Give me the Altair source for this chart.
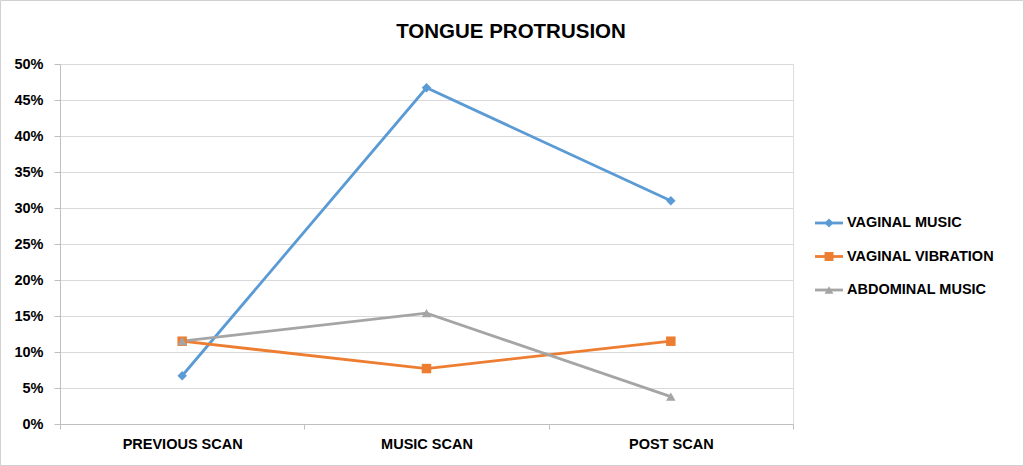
import altair as alt
import pandas as pd

title_text = "TONGUE PROTRUSION"
categories = ["PREVIOUS SCAN", "MUSIC SCAN", "POST SCAN"]
series = ["VAGINAL MUSIC", "VAGINAL VIBRATION", "ABDOMINAL MUSIC"]
vaginal_music = [0.067, 0.467, 0.310]
vaginal_vibration = [0.115, 0.077, 0.115]
abdominal_music = [0.115, 0.154, 0.038]
y_ticks = [0, 0.05, 0.10, 0.15, 0.20, 0.25, 0.30, 0.35, 0.40, 0.45, 0.50]
colors = ["#5b9bd5", "#ed7d31", "#a5a5a5"]
shapes = ["diamond", "square", "triangle-up"]

rows = []
for i, (name, vals) in enumerate(zip(series, [vaginal_music, vaginal_vibration, abdominal_music])):
    for c, v in zip(categories, vals):
        rows.append({"scan": c, "series": name, "value": v, "order": i})
df = pd.DataFrame(rows)
legend_df = pd.DataFrame({"series": series})

FONT = "Liberation Sans"

color = alt.Color(
    "series:N",
    scale=alt.Scale(domain=series, range=colors),
    legend=None,
)
shape = alt.Shape(
    "series:N",
    scale=alt.Scale(domain=series, range=shapes),
    legend=None,
)

x = alt.X(
    "scan:N",
    sort=categories,
    scale=alt.Scale(paddingInner=0, paddingOuter=0),
    axis=alt.Axis(
        title=None,
        labelAngle=0,
        tickBand="extent",
        grid=False,
        domainColor="#bfbfbf",
        tickColor="#bfbfbf",
        tickSize=5,
        labelFont=FONT,
        labelFontSize=14.5,
        labelFontWeight="bold",
        labelColor="#000000",
        labelPadding=8,
    ),
)

y = alt.Y(
    "value:Q",
    scale=alt.Scale(domain=[0, 0.5], nice=False),
    axis=alt.Axis(
        title=None,
        values=y_ticks,
        format=".0%",
        grid=True,
        gridColor="#d9d9d9",
        domainColor="#bfbfbf",
        tickColor="#bfbfbf",
        tickSize=6,
        labelFont=FONT,
        labelFontSize=14.5,
        labelFontWeight="bold",
        labelColor="#000000",
        labelPadding=11,
    ),
)

lines = alt.Chart(df).mark_line(strokeWidth=2.8).encode(
    x=x, y=y, color=color, order=alt.Order("order:Q")
)
points = alt.Chart(df).mark_point(filled=True, opacity=1, size=90).encode(
    x=x, y=y, color=color, shape=shape
)
plot = alt.layer(lines, points)

# manual legend
ly = alt.Y(
    "series:N",
    sort=series,
    scale=alt.Scale(type="point", range=[159, 226], padding=0),
    axis=None,
)
leg_rule = alt.Chart(legend_df).mark_rule(strokeWidth=2.8).encode(
    x=alt.value(755), x2=alt.value(783), y=ly, color=color
)
leg_pt = alt.Chart(legend_df).mark_point(filled=True, opacity=1, size=80).encode(
    x=alt.value(769), y=ly, color=color, shape=shape
)
leg_txt = alt.Chart(legend_df).mark_text(
    align="left", baseline="middle", font=FONT, fontSize=14.5, fontWeight="bold", color="#000000"
).encode(x=alt.value(787), y=ly, text="series:N")
leg = alt.layer(leg_rule, leg_pt, leg_txt)

title = alt.Chart(pd.DataFrame({"t": [title_text]})).mark_text(
    align="center", baseline="middle", font=FONT, fontSize=20.5, fontWeight="bold", color="#000000"
).encode(x=alt.value(451), y=alt.value(-32), text="t:N")

border = alt.Chart(pd.DataFrame({"a": [0]})).mark_rect(
    fill="transparent", stroke="#d0d0d0", strokeWidth=1
).encode(
    x=alt.value(-59.5), x2=alt.value(963.5), y=alt.value(-63.5), y2=alt.value(401.5)
)

chart = alt.layer(border, title, plot, leg).resolve_scale(y="independent").properties(
    width=733,
    height=360,
    autosize=alt.AutoSizeParams(type="none"),
    padding={"left": 60, "top": 64, "right": 231, "bottom": 42},
).configure_view(stroke=None).configure(background="#ffffff")

chart.save("out.html", embed_options={"renderer": "svg", "actions": False})
